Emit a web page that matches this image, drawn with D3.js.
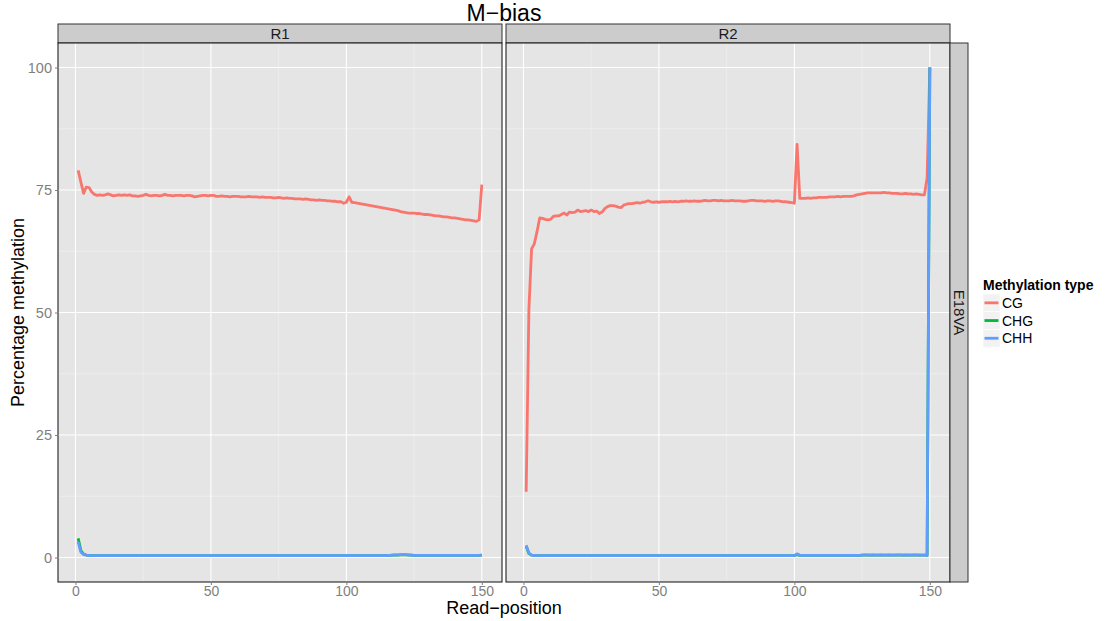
<!DOCTYPE html>
<html>
<head>
<meta charset="utf-8">
<script src="https://cdn.jsdelivr.net/npm/d3@7"></script>
<style>
  body { margin: 0; background: #fff; }
  text { font-family: 'Liberation Sans', Arial, sans-serif; }
</style>
</head>
<body>
<svg width="1113" height="621"></svg>
<script>
// read positions along x
const readPositions = d3.range(1, 151);
const panelNames = ['R1', 'R2'];
const rowName = 'E18VA';
const methTypes = ['CG', 'CHG', 'CHH'];
const methColors = ['#F8766D', '#00BA38', '#619CFF'];
const xTicks = [0, 50, 100, 150];
const xMinor = [25, 75, 125];
const yTicks = [0, 25, 50, 75, 100];
const yMinor = [12.5, 37.5, 62.5, 87.5];
const yLimits = [0, 100];

// percentage methylation per read position, R1
const r1CG = [
  79.0, 76.6, 74.3, 75.6, 75.5, 74.6, 74.1, 73.9, 74.0, 73.9,
  74.0, 74.2, 74.0, 73.8, 73.9, 74.0, 73.9, 74.0, 73.9, 74.0,
  73.8, 73.8, 73.7, 73.8, 73.9, 74.1, 73.9, 73.8, 73.9, 73.9,
  73.8, 73.9, 74.1, 73.9, 73.9, 73.8, 73.9, 73.9, 73.9, 73.8,
  73.9, 73.9, 73.8, 73.6, 73.7, 73.8, 73.9, 73.9, 73.8, 73.9,
  73.9, 73.7, 73.7, 73.8, 73.7, 73.7, 73.6, 73.7, 73.7, 73.7,
  73.6, 73.6, 73.6, 73.7, 73.6, 73.6, 73.6, 73.5, 73.6, 73.5,
  73.5, 73.5, 73.4, 73.4, 73.5, 73.4, 73.3, 73.4, 73.3, 73.3,
  73.2, 73.2, 73.2, 73.1, 73.2, 73.1, 73.0, 73.0, 72.9, 73.0,
  72.9, 72.9, 72.8, 72.8, 72.7, 72.7, 72.6, 72.6, 72.3, 72.5,
  73.6, 72.5, 72.4, 72.3, 72.2, 72.1, 72.0, 71.9, 71.8, 71.7,
  71.6, 71.5, 71.4, 71.3, 71.2, 71.1, 71.0, 70.9, 70.8, 70.6,
  70.5, 70.4, 70.3, 70.3, 70.3, 70.2, 70.2, 70.1, 70.0, 70.0,
  69.9, 69.8, 69.7, 69.7, 69.6, 69.5, 69.5, 69.4, 69.3, 69.3,
  69.2, 69.1, 69.0, 68.9, 68.9, 68.8, 68.7, 68.6, 68.9, 76.1
];
const r1CHG = [
  3.9, 1.4, 0.7, 0.5, 0.45, 0.4, 0.4, 0.4, 0.4, 0.4,
  0.4, 0.4, 0.4, 0.4, 0.4, 0.4, 0.4, 0.4, 0.4, 0.4,
  0.4, 0.4, 0.4, 0.4, 0.4, 0.4, 0.4, 0.4, 0.4, 0.4,
  0.4, 0.4, 0.4, 0.4, 0.4, 0.4, 0.4, 0.4, 0.4, 0.4,
  0.4, 0.4, 0.4, 0.4, 0.4, 0.4, 0.4, 0.4, 0.4, 0.4,
  0.4, 0.4, 0.4, 0.4, 0.4, 0.4, 0.4, 0.4, 0.4, 0.4,
  0.4, 0.4, 0.4, 0.4, 0.4, 0.4, 0.4, 0.4, 0.4, 0.4,
  0.4, 0.4, 0.4, 0.4, 0.4, 0.4, 0.4, 0.4, 0.4, 0.4,
  0.4, 0.4, 0.4, 0.4, 0.4, 0.4, 0.4, 0.4, 0.4, 0.4,
  0.4, 0.4, 0.4, 0.4, 0.4, 0.4, 0.4, 0.4, 0.4, 0.4,
  0.45, 0.4, 0.4, 0.4, 0.4, 0.4, 0.4, 0.4, 0.4, 0.4,
  0.4, 0.4, 0.4, 0.4, 0.45, 0.45, 0.5, 0.5, 0.5, 0.55,
  0.55, 0.55, 0.5, 0.5, 0.45, 0.45, 0.45, 0.45, 0.45, 0.45,
  0.45, 0.45, 0.45, 0.45, 0.45, 0.45, 0.45, 0.45, 0.45, 0.45,
  0.45, 0.45, 0.45, 0.45, 0.45, 0.45, 0.45, 0.45, 0.45, 0.5
];
const r1CHH = [
  3.2, 1.1, 0.6, 0.5, 0.45, 0.4, 0.4, 0.4, 0.4, 0.4,
  0.4, 0.4, 0.4, 0.4, 0.4, 0.4, 0.4, 0.4, 0.4, 0.4,
  0.4, 0.4, 0.4, 0.4, 0.4, 0.4, 0.4, 0.4, 0.4, 0.4,
  0.4, 0.4, 0.4, 0.4, 0.4, 0.4, 0.4, 0.4, 0.4, 0.4,
  0.4, 0.4, 0.4, 0.4, 0.4, 0.4, 0.4, 0.4, 0.4, 0.4,
  0.4, 0.4, 0.4, 0.4, 0.4, 0.4, 0.4, 0.4, 0.4, 0.4,
  0.4, 0.4, 0.4, 0.4, 0.4, 0.4, 0.4, 0.4, 0.4, 0.4,
  0.4, 0.4, 0.4, 0.4, 0.4, 0.4, 0.4, 0.4, 0.4, 0.4,
  0.4, 0.4, 0.4, 0.4, 0.4, 0.4, 0.4, 0.4, 0.4, 0.4,
  0.4, 0.4, 0.4, 0.4, 0.4, 0.4, 0.4, 0.4, 0.4, 0.4,
  0.45, 0.4, 0.4, 0.4, 0.4, 0.4, 0.4, 0.4, 0.4, 0.4,
  0.4, 0.4, 0.4, 0.4, 0.45, 0.45, 0.5, 0.55, 0.55, 0.6,
  0.6, 0.6, 0.55, 0.5, 0.45, 0.45, 0.45, 0.45, 0.45, 0.45,
  0.45, 0.45, 0.45, 0.45, 0.45, 0.45, 0.45, 0.45, 0.45, 0.45,
  0.45, 0.45, 0.45, 0.45, 0.45, 0.45, 0.45, 0.45, 0.45, 0.5
];

// R2
const r2CG = [
  13.4, 50.5, 63.0, 64.0, 66.5, 69.3, 69.2, 69.0, 68.9, 69.0,
  69.6, 69.7, 69.7, 70.0, 70.3, 69.9, 70.5, 70.4, 70.5, 70.9,
  70.6, 70.7, 70.8, 70.6, 70.9, 70.6, 70.7, 70.2, 70.5, 71.2,
  71.6, 71.8, 71.8, 71.7, 71.5, 71.4, 71.9, 72.1, 72.2, 72.2,
  72.3, 72.4, 72.3, 72.5, 72.6, 72.8, 72.6, 72.5, 72.6, 72.5,
  72.6, 72.6, 72.6, 72.7, 72.6, 72.7, 72.6, 72.7, 72.7, 72.8,
  72.7, 72.7, 72.8, 72.7, 72.7, 72.8, 72.9, 72.8, 72.8, 72.9,
  72.9, 72.8, 72.9, 72.8, 72.8, 72.8, 72.9, 72.8, 72.8, 72.8,
  72.7, 72.7, 72.8, 72.9, 72.9, 72.8, 72.8, 72.8, 72.7, 72.8,
  72.8, 72.7, 72.8, 72.8, 72.7, 72.6, 72.6, 72.5, 72.4, 72.3,
  84.3, 73.3, 73.3, 73.3, 73.4, 73.3, 73.4, 73.4, 73.5, 73.5,
  73.5, 73.5, 73.6, 73.6, 73.6, 73.7, 73.6, 73.7, 73.7, 73.7,
  73.7, 73.8, 74.0, 74.1, 74.2, 74.3, 74.4, 74.4, 74.4, 74.4,
  74.4, 74.4, 74.5, 74.4, 74.4, 74.3, 74.3, 74.3, 74.2, 74.2,
  74.3, 74.2, 74.2, 74.1, 74.2, 74.1, 74.0, 74.0, 77.5, 100
];
const r2CHG = [
  2.3, 0.8, 0.5, 0.45, 0.4, 0.4, 0.4, 0.4, 0.4, 0.4,
  0.4, 0.4, 0.4, 0.4, 0.4, 0.4, 0.4, 0.4, 0.4, 0.4,
  0.4, 0.4, 0.4, 0.4, 0.4, 0.4, 0.4, 0.4, 0.4, 0.4,
  0.4, 0.4, 0.4, 0.4, 0.4, 0.4, 0.4, 0.4, 0.4, 0.4,
  0.4, 0.4, 0.4, 0.4, 0.4, 0.4, 0.4, 0.4, 0.4, 0.4,
  0.4, 0.4, 0.4, 0.4, 0.4, 0.4, 0.4, 0.4, 0.4, 0.4,
  0.4, 0.4, 0.4, 0.4, 0.4, 0.4, 0.4, 0.4, 0.4, 0.4,
  0.4, 0.4, 0.4, 0.4, 0.4, 0.4, 0.4, 0.4, 0.4, 0.4,
  0.4, 0.4, 0.4, 0.4, 0.4, 0.4, 0.4, 0.4, 0.4, 0.4,
  0.4, 0.4, 0.4, 0.4, 0.4, 0.4, 0.4, 0.4, 0.4, 0.4,
  0.6, 0.45, 0.45, 0.45, 0.45, 0.45, 0.45, 0.45, 0.45, 0.45,
  0.45, 0.45, 0.45, 0.45, 0.45, 0.45, 0.45, 0.45, 0.45, 0.45,
  0.45, 0.45, 0.45, 0.45, 0.5, 0.5, 0.5, 0.5, 0.5, 0.5,
  0.5, 0.5, 0.5, 0.5, 0.5, 0.5, 0.5, 0.5, 0.5, 0.5,
  0.5, 0.5, 0.5, 0.5, 0.5, 0.5, 0.5, 0.5, 0.45, 100
];
const r2CHH = [
  2.5, 0.9, 0.5, 0.45, 0.4, 0.4, 0.4, 0.4, 0.4, 0.4,
  0.4, 0.4, 0.4, 0.4, 0.4, 0.4, 0.4, 0.4, 0.4, 0.4,
  0.4, 0.4, 0.4, 0.4, 0.4, 0.4, 0.4, 0.4, 0.4, 0.4,
  0.4, 0.4, 0.4, 0.4, 0.4, 0.4, 0.4, 0.4, 0.4, 0.4,
  0.4, 0.4, 0.4, 0.4, 0.4, 0.4, 0.4, 0.4, 0.4, 0.4,
  0.4, 0.4, 0.4, 0.4, 0.4, 0.4, 0.4, 0.4, 0.4, 0.4,
  0.4, 0.4, 0.4, 0.4, 0.4, 0.4, 0.4, 0.4, 0.4, 0.4,
  0.4, 0.4, 0.4, 0.4, 0.4, 0.4, 0.4, 0.4, 0.4, 0.4,
  0.4, 0.4, 0.4, 0.4, 0.4, 0.4, 0.4, 0.4, 0.4, 0.4,
  0.4, 0.4, 0.4, 0.4, 0.4, 0.4, 0.4, 0.4, 0.4, 0.4,
  0.75, 0.45, 0.45, 0.45, 0.45, 0.45, 0.45, 0.45, 0.45, 0.45,
  0.45, 0.45, 0.45, 0.45, 0.45, 0.45, 0.45, 0.45, 0.45, 0.45,
  0.45, 0.45, 0.45, 0.45, 0.5, 0.55, 0.55, 0.5, 0.55, 0.5,
  0.5, 0.55, 0.5, 0.5, 0.55, 0.5, 0.5, 0.55, 0.55, 0.5,
  0.55, 0.5, 0.5, 0.55, 0.55, 0.5, 0.5, 0.5, 0.45, 100
];

(function (d3) {
  'use strict';

  const svg = d3.select('svg');
  const font = "'Liberation Sans', Arial, sans-serif";

  const panelTop = 43;
  const panelBottom = 582;
  const stripTop = 24;
  const panelX = [[58, 502], [506, 950]];
  const seriesByPanel = [
    [r1CG, r1CHG, r1CHH],
    [r2CG, r2CHG, r2CHH]
  ];

  // ggplot style 5% expansion
  const expand = ext => {
    const pad = (ext[1] - ext[0]) * 0.05;
    return [ext[0] - pad, ext[1] + pad];
  };

  const yScale = d3.scaleLinear()
    .domain(expand(yLimits))
    .range([panelBottom, panelTop]);

  const xDomain = expand(d3.extent(readPositions));

  // title
  svg.append('text')
    .attr('x', 504).attr('y', 21)
    .attr('text-anchor', 'middle')
    .attr('font-size', 23)
    .attr('fill', '#000')
    .text('M\u2212bias');

  panelNames.forEach((name, pi) => {
    const [x0, x1] = panelX[pi];
    const xScale = d3.scaleLinear().domain(xDomain).range([x0, x1]);
    const g = svg.append('g');

    // strip
    g.append('rect')
      .attr('x', x0).attr('y', stripTop)
      .attr('width', x1 - x0).attr('height', panelTop - stripTop)
      .attr('fill', '#CCCCCC').attr('stroke', '#333').attr('stroke-width', 1);
    g.append('text')
      .attr('x', (x0 + x1) / 2).attr('y', (stripTop + panelTop) / 2 + 5.5)
      .attr('text-anchor', 'middle')
      .attr('font-size', 15)
      .attr('fill', '#1A1A1A')
      .text(name);

    // panel background
    g.append('rect')
      .attr('x', x0).attr('y', panelTop)
      .attr('width', x1 - x0).attr('height', panelBottom - panelTop)
      .attr('fill', '#E5E5E5');

    // minor grid
    g.selectAll('.ymin').data(yMinor).enter().append('line')
      .attr('x1', x0).attr('x2', x1)
      .attr('y1', d => yScale(d)).attr('y2', d => yScale(d))
      .attr('stroke', '#F2F2F2').attr('stroke-width', 0.6);
    g.selectAll('.xmin').data(xMinor).enter().append('line')
      .attr('y1', panelTop).attr('y2', panelBottom)
      .attr('x1', d => xScale(d)).attr('x2', d => xScale(d))
      .attr('stroke', '#F2F2F2').attr('stroke-width', 0.6);

    // major grid
    g.selectAll('.ymaj').data(yTicks).enter().append('line')
      .attr('x1', x0).attr('x2', x1)
      .attr('y1', d => yScale(d)).attr('y2', d => yScale(d))
      .attr('stroke', '#FFFFFF').attr('stroke-width', 1.1);
    g.selectAll('.xmaj').data(xTicks).enter().append('line')
      .attr('y1', panelTop).attr('y2', panelBottom)
      .attr('x1', d => xScale(d)).attr('x2', d => xScale(d))
      .attr('stroke', '#FFFFFF').attr('stroke-width', 1.1);

    // lines, CHH drawn last
    const line = d3.line()
      .x((d, i) => xScale(readPositions[i]))
      .y(d => yScale(d));
    seriesByPanel[pi].forEach((vals, si) => {
      g.append('path')
        .datum(vals)
        .attr('d', line)
        .attr('fill', 'none')
        .attr('stroke', methColors[si])
        .attr('stroke-width', 2.8)
        .attr('stroke-linejoin', 'round');
    });

    // panel border
    g.append('rect')
      .attr('x', x0).attr('y', panelTop)
      .attr('width', x1 - x0).attr('height', panelBottom - panelTop)
      .attr('fill', 'none').attr('stroke', '#222').attr('stroke-width', 1.1);

    // x axis
    const xAxis = d3.axisBottom(xScale)
      .tickValues(xTicks)
      .tickSize(3)
      .tickPadding(1)
      .tickFormat(d3.format('d'));
    const xAxisG = g.append('g')
      .attr('transform', `translate(0, ${panelBottom})`)
      .call(xAxis);
    xAxisG.select('.domain').remove();
    xAxisG.selectAll('line').attr('stroke', '#7F7F7F');
    xAxisG.selectAll('text')
      .attr('font-family', font).attr('font-size', 14).attr('fill', '#7F7F7F');

    if (pi === 0) {
      const yAxis = d3.axisLeft(yScale)
        .tickValues(yTicks)
        .tickSize(3)
        .tickPadding(3);
      const yAxisG = g.append('g')
        .attr('transform', `translate(${x0}, 0)`)
        .call(yAxis);
      yAxisG.select('.domain').remove();
      yAxisG.selectAll('line').attr('stroke', '#7F7F7F');
      yAxisG.selectAll('text')
        .attr('font-family', font).attr('font-size', 14.5).attr('fill', '#7F7F7F');
    }
  });

  // right strip
  svg.append('rect')
    .attr('x', 950).attr('y', panelTop)
    .attr('width', 18).attr('height', panelBottom - panelTop)
    .attr('fill', '#CCCCCC').attr('stroke', '#333').attr('stroke-width', 1);
  svg.append('text')
    .attr('transform', `translate(953.5, ${(panelTop + panelBottom) / 2}) rotate(90)`)
    .attr('text-anchor', 'middle')
    .attr('font-size', 15)
    .attr('fill', '#1A1A1A')
    .text(rowName);

  // axis titles
  svg.append('text')
    .attr('x', 504).attr('y', 614)
    .attr('text-anchor', 'middle')
    .attr('font-size', 18)
    .text('Read\u2212position');
  svg.append('text')
    .attr('transform', `translate(24, ${(panelTop + panelBottom) / 2}) rotate(-90)`)
    .attr('text-anchor', 'middle')
    .attr('font-size', 18)
    .text('Percentage methylation');

  // legend
  const legend = svg.append('g').attr('transform', 'translate(983, 0)');
  legend.append('text')
    .attr('x', 0).attr('y', 290)
    .attr('font-size', 14).attr('font-weight', 'bold')
    .text('Methylation type');
  const keyH = 17.7;
  const keys = legend.selectAll('.key').data(methTypes).enter().append('g')
    .attr('transform', (d, i) => `translate(0, ${294 + i * keyH})`);
  keys.append('rect')
    .attr('width', 17).attr('height', keyH)
    .attr('fill', '#F2F2F2').attr('stroke', '#fff').attr('stroke-width', 0.5);
  keys.append('line')
    .attr('x1', 1.5).attr('x2', 15.5)
    .attr('y1', keyH / 2).attr('y2', keyH / 2)
    .attr('stroke', (d, i) => methColors[i]).attr('stroke-width', 2.8);
  keys.append('text')
    .attr('x', 19).attr('y', keyH / 2 + 5)
    .attr('font-size', 14)
    .text(d => d);

}(d3));
</script>
</body>
</html>
